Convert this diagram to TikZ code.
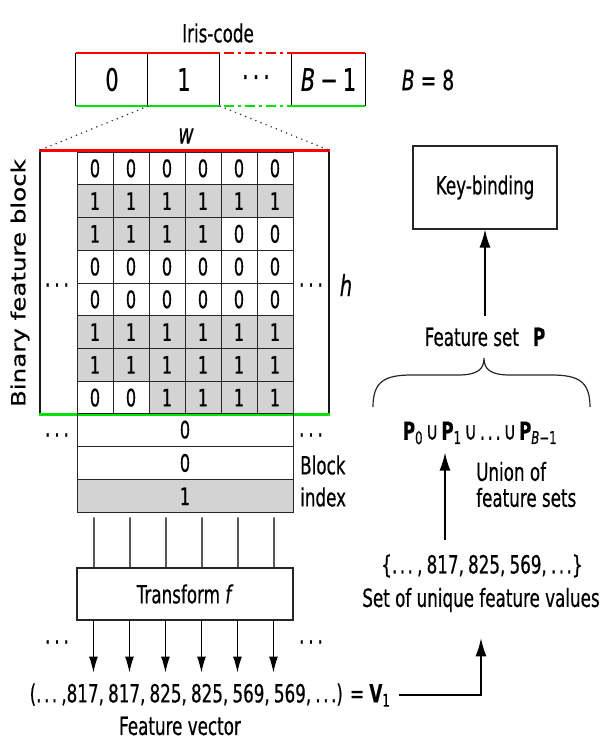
\documentclass[tikz,border=0pt]{standalone}
\usepackage{fontspec}
\setmainfont[FakeStretch=0.67,FakeBold=0.5]{DejaVu Sans}
\newfontfamily\rotfont[FakeBold=0.5]{DejaVu Sans}
\usetikzlibrary{calc,arrows.meta}
\definecolor{codered}{RGB}{255,0,0}
\definecolor{codegreen}{RGB}{0,225,0}
\definecolor{cellgray}{RGB}{211,211,211}
\newcommand\spdots[1]{.\hspace{#1}.\hspace{#1}.}
\begin{document}
\begin{tikzpicture}[x=1pt,y=-1pt,
  lbl/.style={font=\fontsize{25}{29}\selectfont, inner sep=0pt},
  biglbl/.style={font=\fontsize{31}{33}\selectfont, inner sep=0pt},
  cellbox/.style={draw=black!85, line width=1pt, minimum width=36pt, minimum height=32.75pt, inner sep=0pt, font=\fontsize{24}{26}\selectfont},
  idxbox/.style={draw=black!85, line width=1pt, minimum width=216pt, minimum height=33.3pt, inner sep=0pt, font=\fontsize{24}{26}\selectfont},
  plainbox/.style={draw=black!85, line width=1.1pt},
  redline/.style={draw=codered, line width=2.5pt},
  greenline/.style={draw=codegreen, line width=2.5pt},
  dashdot/.style={dash pattern=on 10pt off 4pt on 3pt off 4pt},
  bigarr/.style={line width=1.4pt, -{Latex[length=18pt,width=11pt]}},
  smallarr/.style={line width=1.1pt, -{Latex[length=16pt,width=9pt]}},
  dotlbl/.style={font=\fontsize{25}{27}\selectfont, inner sep=0pt},
  thinline/.style={draw=black, line width=1.1pt},
  dotline/.style={line width=1.7pt, black!80, line cap=round, dash pattern=on 0pt off 5.5pt},
]
\useasboundingbox (0,0) rectangle (609,742);

% ---------- Iris-code ----------
\node[lbl] (iris) at (218,33) {Iris-code};
\node[biglbl, minimum width=72pt, minimum height=53pt] (ic0) at (112,79.5) {0};
\node[biglbl, minimum width=72pt, minimum height=53pt] (ic1) at (184,79.5) {1};
\node[biglbl, minimum width=72pt, minimum height=53pt] (icd) at (256,79.5) {\raisebox{5pt}{\spdots{4pt}}};
\node[biglbl, minimum width=73pt, minimum height=53pt] (icB) at (328.5,79.5) {\textit{B}\,−\,1};
\draw[thinline] (ic0.north west) -- (ic0.south west)
  (ic1.north west) -- (ic1.south west)
  (icd.north west) -- (icd.south west)
  (icB.north west) -- (icB.south west)
  (icB.north east) -- (icB.south east);
\draw[redline] (ic0.north west) -- (icd.north west) (icB.north west) -- (icB.north east);
\draw[redline, dashdot] ($(icd.north west)+(4,0)$) -- (icd.north east);
\draw[greenline] (ic0.south west) -- (icd.south west) (icB.south west) -- (icB.south east);
\draw[greenline, dashdot] ($(icd.south west)+(4,0)$) -- (icd.south east);
\node[font=\fontsize{28}{30}\selectfont, inner sep=0pt] (beq) at (428,80) {\textit{B} = 8};

% ---------- Binary feature block ----------
\node[draw=black!90, line width=1.2pt, minimum width=289pt, minimum height=263pt, inner sep=0pt] (blk) at (184.5,282.5) {};
\foreach \row [count=\r from 0] in {{0,0,0,0,0,0},{1,1,1,1,1,1},{1,1,1,1,0,0},{0,0,0,0,0,0},{0,0,0,0,0,0},{1,1,1,1,1,1},{1,1,1,1,1,1},{0,0,1,1,1,1}}{
  \foreach \v [count=\k from 0] in \row {
    \pgfmathtruncatemacro\pct{100*\v}
    \node[cellbox, fill=cellgray!\pct] (g\r\k) at (95+36*\k, 168.375+32.75*\r) {\v};
  }
}
\draw[redline] (blk.north west) -- (blk.north east);
\draw[greenline] (blk.south west) -- (blk.south east);
\draw[dotline] (ic1.south west) -- (blk.north west);
\draw[dotline] (ic1.south east) -- (blk.north east);
\node[font=\fontsize{28}{30}\selectfont\itshape, inner sep=0pt] (wl) at (186,136) {w};
\node[font=\fontsize{29}{30}\selectfont\itshape, inner sep=0pt] (hl) at (346,285) {h};
\node[dotlbl] (dl1) at (57,285) {\spdots{4pt}};
\node[dotlbl] (dr1) at (311,285) {\spdots{4pt}};
\node[rotate=90, inner sep=0pt] (bfb) at (20,283) {\scalebox{1}[0.8]{\rotfont\fontsize{24.5}{26}\selectfont Binary feature block}};

% ---------- Block index ----------
\node[idxbox] (idx0) at (185,429.65) {0};
\node[idxbox] (idx1) at (185,462.95) {0};
\node[idxbox, fill=cellgray] (idx2) at (185,496.25) {1};
\node[dotlbl] (dl2) at (57,435) {\spdots{4pt}};
\node[dotlbl] (dr2) at (311,435) {\spdots{4pt}};
\node[lbl, anchor=west, align=left, font=\fontsize{25}{32}\selectfont] (bidx) at (300,481) {Block\\index};

% ---------- Transform ----------
\node[plainbox, lbl, minimum width=216pt, minimum height=52pt] (tf) at (185,594) {Transform \textit{f}};
\foreach \k in {0,...,5}{
  \draw[thinline] ($(idx2.south west)+(17.5+36*\k,4)$) -- ($(tf.north west)+(17.5+36*\k,0)$);
  \draw[smallarr] ($(tf.south west)+(17+36*\k,0)$) -- ($(tf.south west)+(17+36*\k,52)$);
}
\node[dotlbl] (dl3) at (57,642) {\spdots{4pt}};
\node[dotlbl] (dr3) at (311,642) {\spdots{4pt}};

% ---------- Feature vector ----------
\node[lbl] (fv) at (210,695) {(\spdots{2.5pt}\,,817,\,817,\,825,\,825,\,569,\,569,\,\spdots{2.5pt}) = \textbf{V}\textsubscript{1}};
\node[lbl] (fvlab) at (180,726) {Feature vector};

% ---------- Right column ----------
\node[lbl] (suv) at (481,600) {Set of unique feature values};
\draw[bigarr, shorten <=8pt, shorten >=26pt] (fv.east) -| (suv.south);
\node[lbl] (setn) at (482,566) {\{\spdots{2.5pt}\,,\,817,\,825,\,569,\,\spdots{2.5pt}\}};
\node[lbl] (union) at (480,433) {\textbf{P}\textsubscript{0}\hspace{3pt}∪\hspace{3pt}\textbf{P}\textsubscript{1}\hspace{3pt}∪\hspace{3pt}\spdots{2.5pt}\hspace{3pt}∪\hspace{3pt}\textbf{P}\textsubscript{\textit{B}−1}};
\draw[bigarr, shorten <=14pt, shorten >=8pt] ($(setn.north)+(-37,0)$) -- ($(union.south)+(-35,0)$);
\node[lbl, anchor=west, align=left, font=\fontsize{25}{26}\selectfont] (uof) at (476,484.5) {Union of\\feature sets};
\coordinate (brL) at (373,407);
\coordinate (brR) at (590,407);
\coordinate (brT) at (484,358);
\draw[line width=1.2pt, black!85] (brL) .. controls (373,381) and (385,375) .. (412,375) -- (458,375)
  .. controls (478,375) and (484,369) .. (brT)
  .. controls (484,369) and (490,375) .. (510,375) -- (551,375)
  .. controls (578,375) and (590,381) .. (brR);
\node[lbl] (fs) at (485,337) {Feature set\hspace{14pt}\textbf{P}};
\node[plainbox, lbl, minimum width=144pt, minimum height=83pt] (kb) at (485,187.5) {Key-binding};
\draw[bigarr, shorten <=12pt] (fs.north) -- (kb.south);
\end{tikzpicture}
\end{document}
